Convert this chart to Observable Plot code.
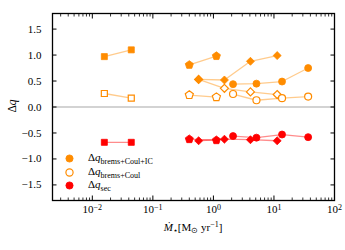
<!DOCTYPE html>
<html><head><meta charset="utf-8">
<script src="https://cdn.jsdelivr.net/npm/d3@7"></script>
<script src="https://cdn.jsdelivr.net/npm/@observablehq/plot@0.6"></script>
<style>body{margin:0;background:#fff}#chart{width:345px;height:250px}</style>
</head><body><div id="chart"></div>
<script>
// ---- data ----
const squareX = [0.0158, 0.044];
const squareIC = [0.97, 1.10];
const squareCoul = [0.26, 0.17];
const squareSec = [-0.68, -0.68];

const pentX = [0.40, 1.12];
const pentIC = [0.81, 0.98];
const pentCoul = [0.23, 0.19];
const pentSec = [-0.62, -0.64];

const diamX = [0.57, 1.52, 4.09, 11.3];
const diamIC = [0.53, 0.52, 0.88, 0.99];
const diamCoul = [0.53, 0.36, 0.29, 0.24];
const diamSec = [-0.65, -0.62, -0.63, -0.65];

const circX = [2.11, 5.14, 13.6, 36.7];
const circIC = [0.44, 0.45, 0.49, 0.75];
const circCoul = [0.25, 0.13, 0.17, 0.20];
const circSec = [-0.56, -0.59, -0.53, -0.58];

const xTicks = [0.01, 0.1, 1, 10, 100];
const xTickExp = ["\u22122", "\u22121", "0", "1", "2"];
const yTicks = [-1.5, -1, -0.5, 0, 0.5, 1, 1.5];
const yTickLabels = ["\u22121.5", "\u22121.0", "\u22120.5", "0.0", "0.5", "1.0", "1.5"];
const legendSubs = ["brems+Coul+IC", "brems+Coul", "sec"];

// ---- styling ----
const ORANGE = "#ff8c00", RED = "#ff0000";
const FONT = "Liberation Serif";

const pentagon = {
  draw(ctx, size) {
    const R = Math.sqrt(size / (2.5 * Math.sin(2 * Math.PI / 5)));
    for (let k = 0; k < 5; k++) {
      const a = -Math.PI / 2 + k * 2 * Math.PI / 5;
      const px = R * Math.cos(a), py = R * Math.sin(a);
      if (k) ctx.lineTo(px, py); else ctx.moveTo(px, py);
    }
    ctx.closePath();
  }
};

const groups = [
  {sym: "square", r: 3.4, x: squareX, ic: squareIC, coul: squareCoul, sec: squareSec},
  {sym: pentagon, r: 3.7, x: pentX, ic: pentIC, coul: pentCoul, sec: pentSec},
  {sym: "diamond2", r: 3.6, x: diamX, ic: diamIC, coul: diamCoul, sec: diamSec},
  {sym: "circle", r: 3.5, x: circX, ic: circIC, coul: circCoul, sec: circSec}
];
const kinds = [
  {key: "coul", stroke: ORANGE, fill: "white", line: ORANGE},
  {key: "ic", stroke: ORANGE, fill: ORANGE, line: ORANGE},
  {key: "sec", stroke: RED, fill: RED, line: RED}
];

const marks = [Plot.ruleY([0], {stroke: "#c4c4c4", strokeWidth: 1.5})];
for (const k of kinds) {
  for (const g of groups) {
    const rows = g.x.map((x, i) => ({x, y: g[k.key][i]}));
    marks.push(Plot.line(rows, {x: "x", y: "y", stroke: k.line, strokeOpacity: 0.45, strokeWidth: 1.3}));
    marks.push(Plot.dot(rows, {x: "x", y: "y", symbol: g.sym, r: g.r, fill: k.fill, stroke: k.stroke, strokeWidth: k.key === "coul" ? 1.2 : 0.8}));
  }
}

// minor log ticks
const minor = [];
for (let e = -3; e <= 1; e++) for (let m = 2; m <= 9; m++) {
  const v = m * Math.pow(10, e);
  if (v >= 0.0022 && v <= 100) minor.push(v);
}

// axes (inward ticks)
marks.push(
  Plot.axisX(xTicks, {anchor: "bottom", tickSize: -4.5, fill: "none", strokeWidth: 1}),
  Plot.axisX(xTicks, {anchor: "top", tickSize: -4.5, fill: "none", strokeWidth: 1}),
  Plot.axisX(minor, {anchor: "bottom", tickSize: -2.5, fill: "none", strokeWidth: 0.8}),
  Plot.axisX(minor, {anchor: "top", tickSize: -2.5, fill: "none", strokeWidth: 0.8}),
  Plot.axisX(xTicks, {anchor: "bottom", tickSize: 0, tickPadding: 5, label: null, tickFormat: () => "10", fill: "black"}),
  Plot.axisY(yTicks, {anchor: "left", tickSize: -4.5, fill: "none", strokeWidth: 1}),
  Plot.axisY(yTicks, {anchor: "right", tickSize: -4.5, fill: "none", strokeWidth: 1}),
  Plot.axisY(yTicks, {anchor: "left", tickSize: 0, tickPadding: 11, label: null, tickFormat: (d, i) => yTickLabels[i], fill: "black"}),
  Plot.frame({stroke: "black", strokeWidth: 1.3})
);

// legend markers
const legFill = [ORANGE, "white", RED];
const legStroke = [ORANGE, ORANGE, RED];
const legDy = [145, 159, 172];
legendSubs.forEach((s, i) => {
  marks.push(Plot.dot([s], {frameAnchor: "top-left", dx: 17, dy: legDy[i], r: 3.6, fill: legFill[i], stroke: legStroke[i], strokeWidth: i === 1 ? 1.2 : 0.8}));
});

const plot = Plot.plot({
  width: 345, height: 250,
  marginLeft: 52, marginRight: 11, marginTop: 13, marginBottom: 50,
  style: {fontFamily: FONT, fontSize: "11px", background: "white", color: "black"},
  x: {type: "log", domain: [0.0022, 100]},
  y: {domain: [-1.8, 1.8]},
  marks
});
document.getElementById("chart").appendChild(plot);

const svg = d3.select(plot);
// superscript exponents on x tick labels
svg.selectAll('g[aria-label="x-axis tick label"] text').each(function (d, i) {
  const t = d3.select(this);
  t.text(null);
  t.append("tspan").text("10");
  t.append("tspan").attr("dy", "-0.45em").attr("font-size", "8px").text(xTickExp[i]);
});

// y label
svg.append("text")
  .attr("transform", "translate(16,106) rotate(-90)")
  .attr("text-anchor", "middle")
  .attr("font-family", FONT).attr("font-size", "11.5px")
  .call(t => { t.append("tspan").text("\u0394"); t.append("tspan").attr("font-style", "italic").text("q"); });

// x label
svg.append("text")
  .attr("x", 193).attr("y", 231)
  .attr("text-anchor", "middle")
  .attr("font-family", FONT).attr("font-size", "11px")
  .call(t => {
    t.append("tspan").attr("font-style", "italic").text("\u1E40");
    t.append("tspan").attr("dy", "2").attr("font-size", "8px").text("\u22C6");
    t.append("tspan").attr("dy", "-2").text("[M");
    t.append("tspan").attr("dy", "2").attr("font-size", "8px").text("\u2299");
    t.append("tspan").attr("dy", "-2").text(" yr");
    t.append("tspan").attr("dy", "-4").attr("font-size", "8px").text("\u22121");
    t.append("tspan").attr("dy", "4").text("]");
  });

// legend text
const legY = [161, 175, 188];
legendSubs.forEach((s, i) => {
  svg.append("text")
    .attr("x", 88).attr("y", legY[i])
    .attr("text-anchor", "start")
    .attr("font-family", FONT).attr("font-size", "11px")
    .call(t => {
      t.append("tspan").text("\u0394");
      t.append("tspan").attr("font-style", "italic").text("q");
      t.append("tspan").attr("dy", "2.5").attr("font-size", "8px").text(s);
    });
});
</script>
</body></html>
